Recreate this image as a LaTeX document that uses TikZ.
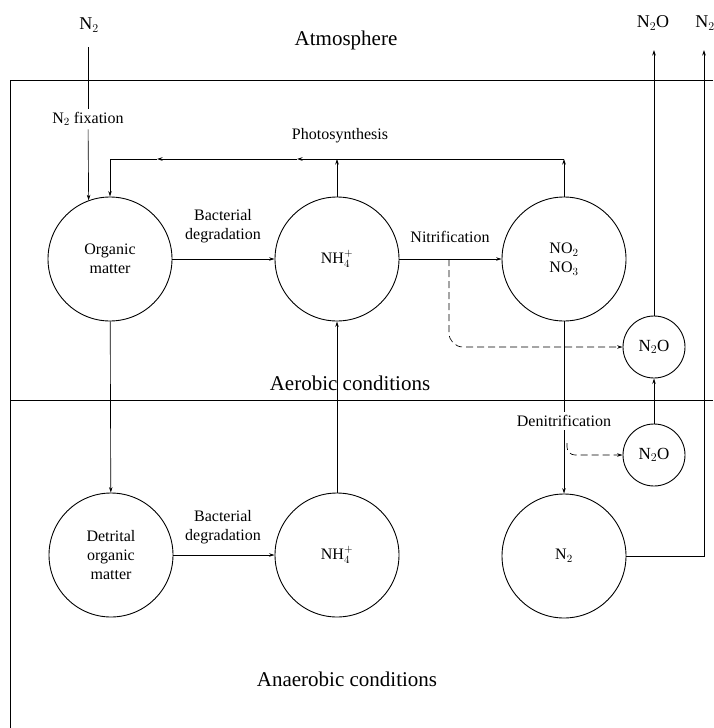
\documentclass[tikz,border=0pt]{standalone}
\usepackage{fontspec}
\setmainfont{Liberation Serif}
\usetikzlibrary{arrows.meta}

\begin{document}
\begin{tikzpicture}[x=1pt,y=-1pt,line width=0.65pt,
	>={Stealth[length=5.5pt,width=3.5pt]},
	pool/.style={circle,draw,line width=0.9pt,minimum size=124pt,inner sep=0pt,align=center,font=\fontsize{16}{19}\selectfont},
	smallpool/.style={circle,draw,line width=0.9pt,minimum size=62pt,inner sep=0pt,font=\fontsize{17}{20}\selectfont},
	lbl/.style={align=center,font=\fontsize{16}{19}\selectfont},
	zone/.style={font=\fontsize{21}{25}\selectfont},
	gas/.style={font=\fontsize{18}{21}\selectfont},
	gasflow/.style={dash pattern=on 7pt off 4pt}]
	\useasboundingbox (0,0) rectangle (713,728);
	% frame
	\begin{scope}[line width=0.9pt]
	\draw (713,80) -- (10,80) -- (10,728);
	\draw (10,400) -- (713,400);
	\end{scope}
	\node[zone] (atm) at (346,40) {Atmosphere};
	\node[zone] (aer) at (350,383) {Aerobic conditions};
	\node[zone] (anaer) at (347,679) {Anaerobic conditions};
	% pools
	\node[pool] (org) at (110,259) {Organic\\matter};
	\node[pool] (nh) at (337,259) {NH$_4^+$};
	\node[pool] (no) at (564,259) {NO$_2$\\NO$_3$};
	\node[pool] (det) at (111,555) {Detrital\\organic\\matter};
	\node[pool] (nhb) at (337,555) {NH$_4^+$};
	\node[pool] (n2) at (564,556) {N$_2$};
	\node[smallpool] (n2oa) at (654,347) {N$_2$O};
	\node[smallpool] (n2ob) at (654,455) {N$_2$O};
	% labels
	\node[gas] (n2in) at (89,25) {N$_2$};
	\node[gas] (n2oout) at (653,23) {N$_2$O};
	\node[gas] (n2out) at (705,23) {N$_2$};
	\node[lbl,inner sep=3pt] (fix) at (88,119) {N$_2$ fixation};
	\node[lbl] (photo) at (340,136) {Photosynthesis};
	\node[lbl] (bdega) at (223,226) {Bacterial\\degradation};
	\node[lbl] (bdegb) at (223,527) {Bacterial\\degradation};
	\node[lbl] (nitr) at (450,237) {Nitrification};
	\node[lbl,inner sep=3pt] (denit) at (564,421) {Denitrification};
	% fixation
	\coordinate (fixtop) at (88,47);
	\draw (fixtop) -- (fix);
	\draw[->] (fix) -- (org.110);
	% photosynthesis loop
	\coordinate (psR) at (564,159);
	\coordinate (psa) at (297,159);
	\coordinate (psb) at (157,159);
	\coordinate (psL) at (110,159);
	\draw[->] (no.north) -- (psR);
	\draw[->] (psR) -- (psa);
	\draw[->] (psa) -- (psb);
	\draw[->] (psb) -- (psL) -- (org.north);
	\draw[->] (nh.north) -- (nh.north |- psR);
	% degradation and nitrification
	\draw[->] (org) -- (nh);
	\draw[->] (det) -- (nhb);
	\draw[->] (nh) -- (no);
	\draw[->] (org) -- (det);
	\draw[->] (nhb) -- (nh);
	\coordinate (nitsplit) at (449,259);
	\draw[gasflow,->,rounded corners=14pt] (nitsplit) -- (nitsplit |- n2oa.west) -- (n2oa.west);
	% denitrification
	\draw (no) -- (denit);
	\draw[->] (denit) -- (n2);
	\coordinate (dnsplit) at (567,443);
	\draw[gasflow,->,rounded corners=8pt] (dnsplit) -- (dnsplit |- n2ob.west) -- (n2ob.west);
	\draw[->] (n2ob) -- (n2oa);
	% gases to atmosphere
	\coordinate (n2otip) at (654,50);
	\coordinate (n2tip) at (704,50);
	\draw[->] (n2oa.north) -- (n2otip);
	\draw[->] (n2.east) -- (n2.east -| n2tip) -- (n2tip);
\end{tikzpicture}
\end{document}
